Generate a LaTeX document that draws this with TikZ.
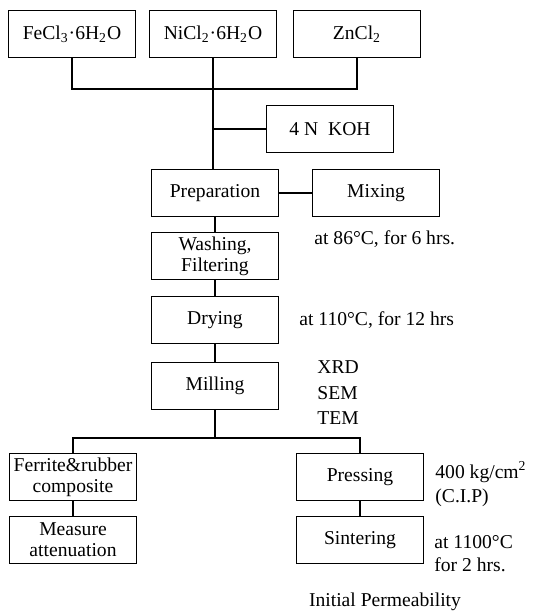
\documentclass[tikz,border=0pt]{standalone}
\usepackage{fontspec}
\setmainfont{Liberation Serif}
\begin{document}
\begin{tikzpicture}[
    x=0.5pt, y=-0.5pt,
    font=\fontsize{9.8}{10.5}\selectfont,
    procbox/.style={draw, line width=0.9pt, align=center, inner sep=1pt, minimum width=63.5pt, minimum height=23.5pt},
    notetext/.style={anchor=west, align=left, inner sep=0pt}
]
    \useasboundingbox (0,0) rectangle (532,614);
    \node[procbox] (fecl) at (72,34) {FeCl\textsubscript{3}·6H\textsubscript{2}O};
    \node[procbox] (nicl) at (213,34) {NiCl\textsubscript{2}·6H\textsubscript{2}O};
    \node[procbox] (zncl) at (357,34) {ZnCl\textsubscript{2}};
    \node[procbox] (koh) at (330,129) {4 N\enspace KOH};
    \node[procbox] (prep) at (215,193) {Preparation};
    \node[procbox] (mix) at (376,193) {Mixing};
    \node[procbox] (wash) at (215,256) {Washing,\\Filtering};
    \node[procbox] (dry) at (215,320) {Drying};
    \node[procbox] (mill) at (215,386) {Milling};
    \node[procbox] (ferrite) at (73,477) {Ferrite\&rubber\\composite};
    \node[procbox] (measure) at (73,540) {Measure\\attenuation};
    \node[procbox] (press) at (360,477) {Pressing};
    \node[procbox] (sinter) at (360,540) {Sintering};
    \node[notetext] (mixcond) at (314,239) {at 86°C, for 6 hrs.};
    \node[notetext] (drycond) at (299,320) {at 110°C, for 12 hrs};
    \node[notetext, font=\fontsize{9.8}{12.75}\selectfont] (tests) at (317,393) {XRD\\SEM\\TEM};
    \node[notetext, font=\fontsize{9.8}{12}\selectfont] (presscond) at (435,484) {400 kg/cm\textsuperscript{2}\\(C.I.P)};
    \node[notetext, font=\fontsize{9.8}{11.5}\selectfont] (sintercond) at (434,554) {at 1100°C\\for 2 hrs.};
    \node (perm) at (385,602) {Initial Permeability};
    \coordinate (rawjoin) at (213,89);
    \coordinate (split) at (215,438);
    \begin{scope}[line width=0.9pt]
    \draw (fecl.south) |- (rawjoin) -| (zncl.south);
    \draw (nicl.south) -- (nicl.south |- prep.north);
    \draw (koh.west) -- (koh.west -| nicl.south);
    \draw (prep.east) -- (mix.west);
    \draw (prep) -- (wash);
    \draw (wash) -- (dry);
    \draw (dry) -- (mill);
    \draw (mill.south) -- (split);
    \draw (ferrite.north) |- (split) -| (press.north);
    \draw (ferrite) -- (measure);
    \draw (press) -- (sinter);
    \end{scope}
\end{tikzpicture}
\end{document}
